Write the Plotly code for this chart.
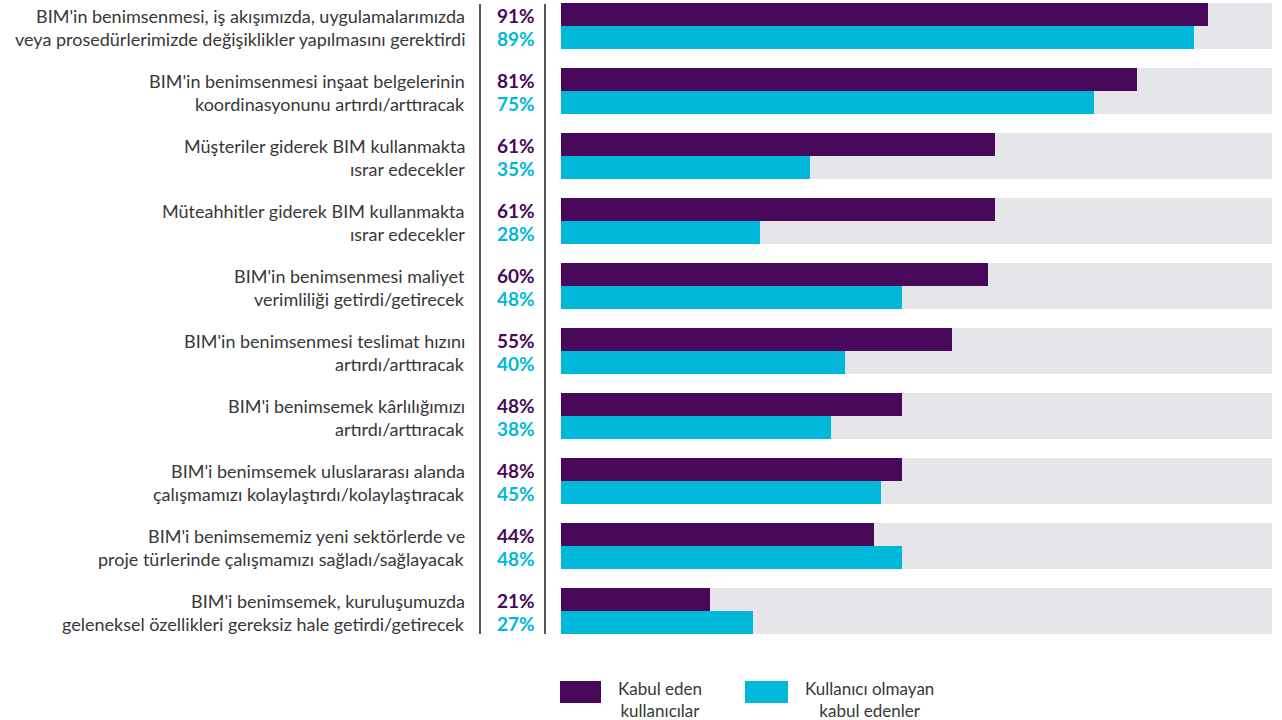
import plotly.graph_objects as go

W, H = 1282, 720

# Statements (two lines each) and survey shares
statements_line1 = [
    "BIM'in benimsenmesi, iş akışımızda, uygulamalarımızda",
    "BIM'in benimsenmesi inşaat belgelerinin",
    "Müşteriler giderek BIM kullanmakta",
    "Müteahhitler giderek BIM kullanmakta",
    "BIM'in benimsenmesi maliyet",
    "BIM'in benimsenmesi teslimat hızını",
    "BIM'i benimsemek kârlılığımızı",
    "BIM'i benimsemek uluslararası alanda",
    "BIM'i benimsememiz yeni sektörlerde ve",
    "BIM'i benimsemek, kuruluşumuzda",
]
statements_line2 = [
    "veya prosedürlerimizde değişiklikler yapılmasını gerektirdi",
    "koordinasyonunu artırdı/arttıracak",
    "ısrar edecekler",
    "ısrar edecekler",
    "verimliliği getirdi/getirecek",
    "artırdı/arttıracak",
    "artırdı/arttıracak",
    "çalışmamızı kolaylaştırdı/kolaylaştıracak",
    "proje türlerinde çalışmamızı sağladı/sağlayacak",
    "geleneksel özellikleri gereksiz hale getirdi/getirecek",
]
users = [91, 81, 61, 61, 60, 55, 48, 48, 44, 21]
non_users = [89, 75, 35, 28, 48, 40, 38, 45, 48, 27]
series_names = ["Kabul eden<br>kullanıcılar", "Kullanıcı olmayan<br>kabul edenler"]

PURPLE = "#48095a"
CYAN = "#00b8d9"
GREY = "#e6e6ea"
TEXT = "#383838"
FONT = "Lato, 'Open Sans', sans-serif"

# Geometry (pixels)
GROUP_STEP = 65.0
FIRST_CENTER = 26.0
BAR_H = 23.0
X0_PX, X1_PX = 561.0, 1272.0


def px_x(px):
    return px / W


def px_y(py):
    return 1 - py / H


n = len(users)
idx = list(range(n))
off = BAR_H / 2 / GROUP_STEP
bw = BAR_H / GROUP_STEP

fig = go.Figure()
fig.add_trace(go.Bar(
    x=[100] * n, y=idx, orientation="h", width=2 * bw,
    marker=dict(color=GREY, line=dict(width=0)), hoverinfo="skip", showlegend=False,
))
fig.add_trace(go.Bar(
    x=users, y=[i - off for i in idx], orientation="h", width=bw,
    marker=dict(color=PURPLE, line=dict(width=0)), showlegend=False,
))
fig.add_trace(go.Bar(
    x=non_users, y=[i + off for i in idx], orientation="h", width=bw,
    marker=dict(color=CYAN, line=dict(width=0)), showlegend=False,
))

annotations = []
for i in idx:
    c = FIRST_CENTER + GROUP_STEP * i
    top, bot = c - BAR_H / 2, c + BAR_H / 2
    annotations.append(dict(x=px_x(467), y=px_y(top + 1.5), xref="paper", yref="paper",
                            text=statements_line1[i], showarrow=False, xanchor="right",
                            yanchor="middle", font=dict(family=FONT, size=18, color=TEXT)))
    annotations.append(dict(x=px_x(467), y=px_y(bot + 1.5), xref="paper", yref="paper",
                            text=statements_line2[i], showarrow=False, xanchor="right",
                            yanchor="middle", font=dict(family=FONT, size=18, color=TEXT)))
    annotations.append(dict(x=px_x(516), y=px_y(top + 1), xref="paper", yref="paper",
                            text=f"<b>{users[i]}%</b>", showarrow=False, xanchor="center",
                            yanchor="middle", font=dict(family=FONT, size=19, color=PURPLE)))
    annotations.append(dict(x=px_x(516), y=px_y(bot + 1), xref="paper", yref="paper",
                            text=f"<b>{non_users[i]}%</b>", showarrow=False, xanchor="center",
                            yanchor="middle", font=dict(family=FONT, size=19, color=CYAN)))

# Legend drawn by hand: swatch + two-line caption
legend_items = [(PURPLE, 560, 601, 616, series_names[0]), (CYAN, 745, 788, 803, series_names[1])]
shapes = []
for color, sx0, sx1, tx, label in legend_items:
    shapes.append(dict(type="rect", xref="paper", yref="paper",
                       x0=px_x(sx0), x1=px_x(sx1), y0=px_y(703), y1=px_y(681),
                       fillcolor=color, line=dict(width=0)))
    annotations.append(dict(x=px_x(tx), y=px_y(699), xref="paper", yref="paper",
                            text=label, showarrow=False, xanchor="left", yanchor="middle",
                            align="center", font=dict(family=FONT, size=17, color=TEXT)))

# Vertical separators around the percentage column
for vx in (480, 545):
    shapes.append(dict(type="line", xref="paper", yref="paper",
                       x0=px_x(vx), x1=px_x(vx), y0=px_y(4), y1=px_y(634),
                       line=dict(color="#555555", width=2)))

fig.update_layout(
    width=W, height=H, margin=dict(l=0, r=0, t=0, b=0),
    paper_bgcolor="white", plot_bgcolor="white",
    barmode="overlay", bargap=0,
    xaxis=dict(domain=[px_x(X0_PX), px_x(X1_PX)], range=[0, 100], visible=False, fixedrange=True),
    yaxis=dict(domain=[0, 1],
               range=[(H - FIRST_CENTER) / GROUP_STEP, -FIRST_CENTER / GROUP_STEP],
               visible=False, fixedrange=True),
    annotations=annotations, shapes=shapes,
    font=dict(family=FONT),
)

fig.write_html("out.html", config={"displayModeBar": False})
